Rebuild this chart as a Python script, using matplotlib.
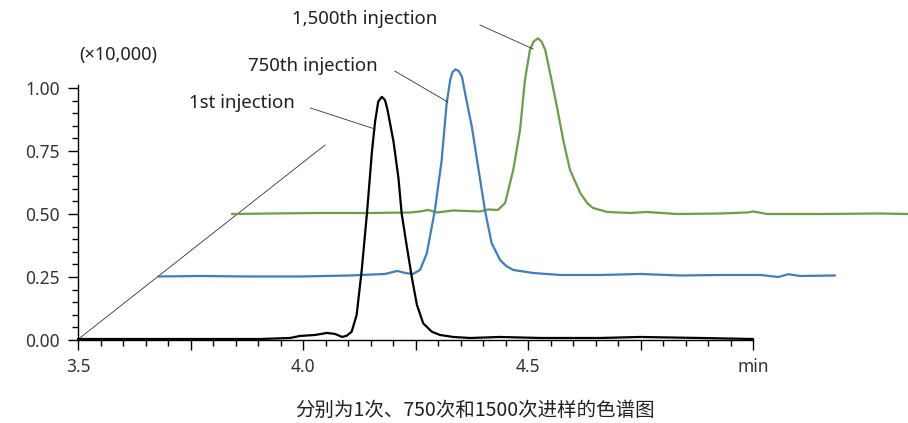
import matplotlib
matplotlib.use('Agg')
import matplotlib.pyplot as plt
from matplotlib.ticker import FixedLocator

plt.rcParams['font.family'] = ['Noto Sans', 'Noto Sans CJK SC', 'DejaVu Sans']

# retention time (min) / signal (x10,000)
t_1st = [3.500, 3.660, 3.816, 3.904, 3.971, 3.993, 4.027, 4.053, 4.071, 4.087,
         4.097, 4.108, 4.119, 4.130, 4.142, 4.153, 4.160, 4.167, 4.175, 4.182,
         4.187, 4.201, 4.212, 4.219, 4.230, 4.242, 4.253, 4.267, 4.286, 4.304,
         4.334, 4.371, 4.438, 4.527, 4.660, 4.749, 4.882, 5.000]
s_1st = [0.004, 0.004, 0.004, 0.004, 0.008, 0.016, 0.020, 0.028, 0.024, 0.012,
         0.017, 0.033, 0.099, 0.271, 0.503, 0.747, 0.866, 0.946, 0.965, 0.952,
         0.919, 0.787, 0.642, 0.503, 0.377, 0.245, 0.139, 0.066, 0.033, 0.020,
         0.012, 0.008, 0.012, 0.008, 0.008, 0.012, 0.008, 0.004]

t_750 = [3.678, 3.771, 3.882, 3.993, 4.104, 4.182, 4.209, 4.227, 4.244, 4.260,
         4.275, 4.293, 4.308, 4.319, 4.327, 4.332, 4.339, 4.346, 4.353, 4.360,
         4.375, 4.390, 4.404, 4.419, 4.438, 4.451, 4.467, 4.511, 4.571, 4.660,
         4.749, 4.838, 4.927, 5.016, 5.056, 5.078, 5.104, 5.182]
s_750 = [0.252, 0.254, 0.252, 0.252, 0.256, 0.262, 0.274, 0.266, 0.262, 0.278,
         0.344, 0.516, 0.714, 0.939, 1.032, 1.063, 1.074, 1.067, 1.045, 0.979,
         0.846, 0.675, 0.516, 0.384, 0.317, 0.294, 0.278, 0.266, 0.258, 0.258,
         0.262, 0.256, 0.258, 0.258, 0.250, 0.261, 0.254, 0.256]

t_1500 = [3.842, 3.927, 4.038, 4.149, 4.238, 4.260, 4.278, 4.298, 4.333, 4.393,
          4.411, 4.433, 4.449, 4.467, 4.482, 4.493, 4.504, 4.512, 4.522, 4.530,
          4.538, 4.549, 4.564, 4.578, 4.593, 4.616, 4.631, 4.644, 4.676, 4.727,
          4.764, 4.831, 4.927, 4.987, 5.000, 5.031, 5.149, 5.282, 5.344]
s_1500 = [0.500, 0.502, 0.504, 0.504, 0.506, 0.510, 0.516, 0.506, 0.514, 0.510,
          0.518, 0.516, 0.544, 0.675, 0.833, 1.032, 1.151, 1.184, 1.197, 1.184,
          1.151, 1.058, 0.926, 0.794, 0.675, 0.583, 0.544, 0.524, 0.508, 0.504,
          0.508, 0.500, 0.502, 0.506, 0.510, 0.500, 0.500, 0.502, 0.500]

labels = ['1st injection', '750th injection', '1,500th injection']
label_xy = [(3.864, 0.940), (4.022, 1.087), (4.136, 1.274)]
leader_from = [(4.016, 0.921), (4.204, 1.067), (4.393, 1.250)]
leader_to = [(4.160, 0.837), (4.322, 0.944), (4.511, 1.155)]

x_major = [3.5, 3.75, 4.0, 4.25, 4.5, 4.75, 5.0]
x_labels = ['3.5', '', '4.0', '', '4.5', '', 'min']
y_major = [0.0, 0.25, 0.5, 0.75, 1.0]
y_labels = ['0.00', '0.25', '0.50', '0.75', '1.00']

caption = '分别为1次、750次和1500次进样的色谱图'

fig = plt.figure(figsize=(9.08, 4.23), dpi=100)
ax = fig.add_axes([78 / 908, 83 / 423, 830 / 908, 1.3 * 252 / 423])
ax.set_xlim(3.5, 5.344)
ax.set_ylim(0, 1.3)

# perspective guide line
ax.plot([3.504, 4.049], [0.008, 0.774], color='#333333', lw=0.6)

trace_style = dict(lw=1.6, clip_on=False, solid_joinstyle='round',
                   solid_capstyle='round')
ax.plot(t_1500, s_1500, color='#6a9f45', **trace_style)
ax.plot(t_750, s_750, color='#3d7fc1', **trace_style)
ax.plot(t_1st, s_1st, color='black', **trace_style)

for lab, xy, p0, p1 in zip(labels, label_xy, leader_from, leader_to):
    ax.text(xy[0], xy[1], lab, ha='center', va='center', fontsize=13.4,
            color='#231f20', clip_on=False)
    ax.plot([p0[0], p1[0]], [p0[1], p1[1]], color='#333333', lw=0.6)

for side in ['top', 'right']:
    ax.spines[side].set_visible(False)
ax.spines['left'].set_bounds(0, 1.01)
ax.spines['bottom'].set_bounds(3.5, 5.0)
ax.spines['left'].set_linewidth(1.0)
ax.spines['bottom'].set_linewidth(1.0)

ax.xaxis.set_major_locator(FixedLocator(x_major))
ax.set_xticklabels(x_labels)
ax.xaxis.set_minor_locator(FixedLocator([3.5 + 0.05 * i for i in range(31)]))
ax.yaxis.set_major_locator(FixedLocator(y_major))
ax.set_yticklabels(y_labels)
ax.yaxis.set_minor_locator(FixedLocator([0.05 * i for i in range(21)]))

ax.tick_params(which='major', length=7, width=1.0, labelsize=12.5,
               labelcolor='#333333', pad=6)
ax.tick_params(which='minor', length=4, width=1.0)

fig.text(118 / 908, 1 - 55 / 423, '(×10,000)', ha='center', va='center',
         fontsize=13, color='#231f20')
fig.text(475 / 908, 1 - 410 / 423, caption, ha='center', va='center',
         fontsize=14, color='#231f20',
         family=['Noto Sans CJK SC', 'DejaVu Sans'])

fig.savefig('out.png', dpi=100)
